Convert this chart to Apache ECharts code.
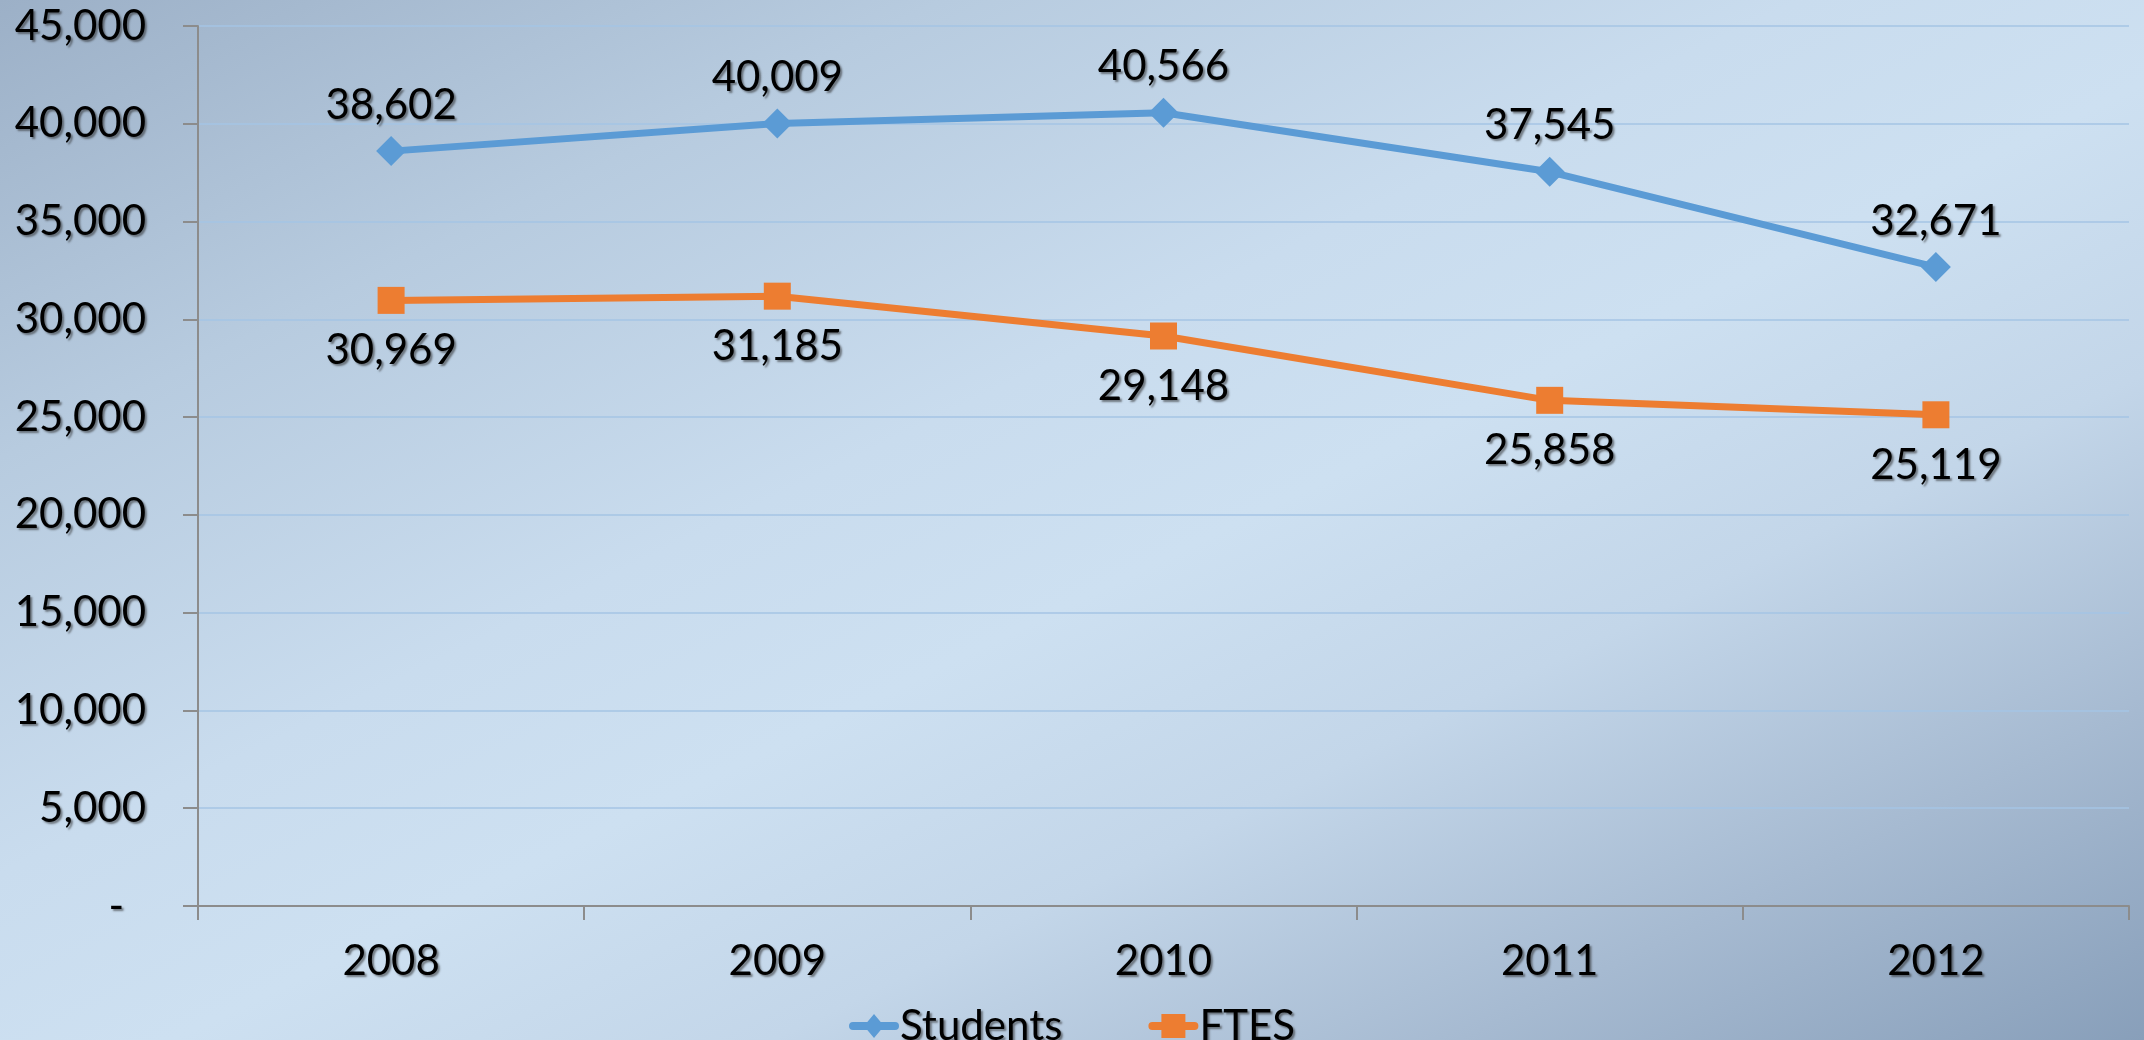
<!DOCTYPE html>
<html>
<head>
<meta charset="utf-8">
<script src="https://cdn.jsdelivr.net/npm/echarts@6/dist/echarts.min.js"></script>
<style>
  html, body { margin: 0; padding: 0; width: 2144px; height: 1040px; overflow: hidden; }
  body {
    background: linear-gradient(to bottom right,
      #9cb0c7 0%, #b7cbdf 22%, #c9dcee 42%, #cde0f1 54%, #c3d6e9 68%, #a6bad1 84%, #889fba 100%);
  }
  #chart { width: 2144px; height: 1040px; }
</style>
</head>
<body>
<div id="chart"></div>
<script>
// Enrollment headcount vs. full-time equivalent students, 2008-2012
const years = ['2008', '2009', '2010', '2011', '2012'];
const students = [38602, 40009, 40566, 37545, 32671];
const ftes = [30969, 31185, 29148, 25858, 25119];
const yTicks = { min: 0, max: 45000, step: 5000 };

const FONT = "'Century Gothic', 'Lato', sans-serif";
const shadow = {
  textShadowColor: 'rgba(40,40,40,0.55)',
  textShadowBlur: 2,
  textShadowOffsetX: 2,
  textShadowOffsetY: 2
};
const txt = Object.assign({ fontFamily: FONT, fontSize: 42, color: '#000' }, shadow);
const fmt = v => v.toLocaleString('en-US');

// Legend keys: a thick round-capped stroke with the series marker in the middle
const legendDiamond = 'path://M4,8 L18.3,8 L25,0 L31.7,8 L46,8 A4,4 0 0 1 46,16 L31.7,16 L25,24 L18.3,16 L4,16 A4,4 0 0 1 4,8 Z';
const legendSquare = 'path://M4,8 L13,8 L13,0 L37,0 L37,8 L46,8 A4,4 0 0 1 46,16 L37,16 L37,24 L13,24 L13,16 L4,16 A4,4 0 0 1 4,8 Z';

const chart = echarts.init(document.getElementById('chart'), null, { renderer: 'canvas' });
chart.setOption({
  backgroundColor: 'transparent',
  animation: false,
  grid: { left: 198, right: 15, top: 26, bottom: 134, containLabel: false },
  legend: {
    data: [
      { name: 'Students', icon: legendDiamond },
      { name: 'FTES', icon: legendSquare }
    ],
    top: 1000,
    left: 'center',
    itemWidth: 50,
    itemHeight: 24,
    itemGap: 86,
    textStyle: Object.assign({}, txt, { padding: [0, 0, 0, -4] })
  },
  xAxis: {
    type: 'category',
    data: years,
    boundaryGap: true,
    axisLine: { lineStyle: { color: '#8c8c8c', width: 2 } },
    axisTick: { show: true, length: 14, lineStyle: { color: '#8c8c8c', width: 2 } },
    axisLabel: Object.assign({}, txt, { margin: 34 }),
    splitLine: { show: false }
  },
  yAxis: {
    type: 'value',
    min: yTicks.min,
    max: yTicks.max,
    interval: yTicks.step,
    axisLine: { show: true, lineStyle: { color: '#8c8c8c', width: 2 } },
    axisTick: { show: true, length: 15, lineStyle: { color: '#8c8c8c', width: 2 } },
    axisLabel: Object.assign({}, txt, {
      margin: 52,
      formatter: v => (v === 0 ? '{dash|-}' : fmt(v)),
      rich: { dash: Object.assign({}, txt, { padding: [0, 22, 0, 0] }) }
    }),
    splitLine: { show: true, lineStyle: { color: '#a4c4e4', width: 1.5 } }
  },
  series: [
    {
      name: 'Students',
      type: 'line',
      data: students,
      symbol: 'diamond',
      symbolSize: 30,
      lineStyle: { color: '#5b9bd5', width: 7 },
      itemStyle: { color: '#5b9bd5' },
      label: Object.assign({}, txt, {
        show: true, position: 'top', distance: 10,
        formatter: p => fmt(p.value)
      })
    },
    {
      name: 'FTES',
      type: 'line',
      data: ftes,
      symbol: 'rect',
      symbolSize: 27,
      lineStyle: { color: '#ed7d31', width: 7 },
      itemStyle: { color: '#ed7d31' },
      label: Object.assign({}, txt, {
        show: true, position: 'bottom', distance: 16,
        formatter: p => fmt(p.value)
      })
    }
  ]
});
</script>
</body>
</html>
